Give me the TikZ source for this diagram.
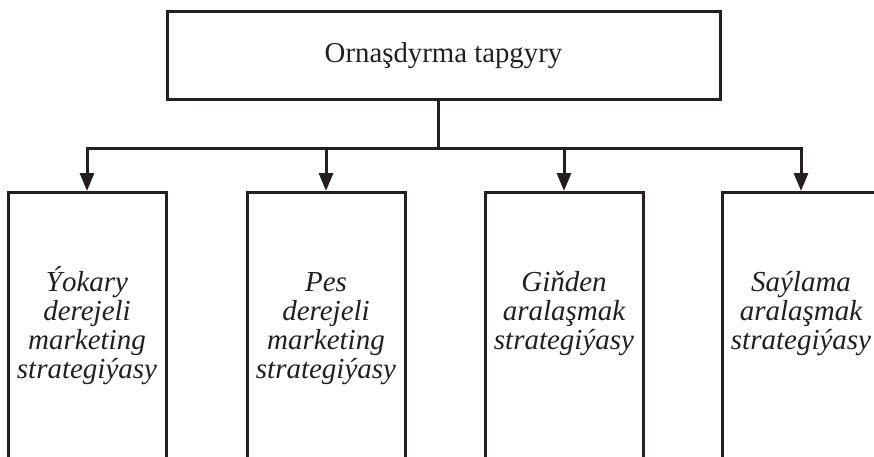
\documentclass[tikz,border=0pt]{standalone}
\usepackage{fontspec}
\setmainfont{Liberation Serif}
\usetikzlibrary{arrows.meta}
\definecolor{ink}{HTML}{231F20}
\begin{document}
\begin{tikzpicture}[x=1pt,y=-1pt,
  box/.style={draw=ink,line width=3pt,rectangle,inner sep=0pt},
  lower/.style={box,minimum width=158pt,minimum height=290pt,anchor=north},
  lbl/.style={font=\fontsize{29pt}{29.2pt}\selectfont\itshape,text=ink,align=center,anchor=base,inner sep=0pt},
  conn/.style={draw=ink,line width=3pt},
  arr/.style={conn,-{Triangle[length=18pt,width=14pt]}}]
\useasboundingbox (0,0) rectangle (874,457);
\clip (0,0) rectangle (874,457);
\node[box,minimum width=553pt,minimum height=88pt,font=\fontsize{28.8pt}{30pt}\selectfont,text=ink] (top) at (443.5,55.5) {Ornaşdyrma tapgyry};
\node[lower] (b1) at (87,191) {};
\node[lower] (b2) at (326,191) {};
\node[lower] (b3) at (564,191) {};
\node[lower] (b4) at (801,191) {};
\node[lbl] (t1) at (87,378.6) {Ýokary\\derejeli\\marketing\\strategiýasy};
\node[lbl] (t2) at (326,378.6) {Pes\\derejeli\\marketing\\strategiýasy};
\node[lbl] (t3) at (564,349.4) {Giňden\\aralaşmak\\strategiýasy};
\node[lbl] (t4) at (801,349.4) {Saýlama\\aralaşmak\\strategiýasy};
\coordinate (j) at (438,149);
\coordinate (hl) at (87,149);
\coordinate (hr) at (801,149);
\draw[conn] (top.south -| j) -- (j);
\draw[conn,line cap=rect] (hl) -- (hr);
\draw[arr] (hl) -- (b1.north);
\draw[arr] (b2.north |- hl) -- (b2.north);
\draw[arr] (b3.north |- hl) -- (b3.north);
\draw[arr] (hr) -- (b4.north);
\end{tikzpicture}
\end{document}
